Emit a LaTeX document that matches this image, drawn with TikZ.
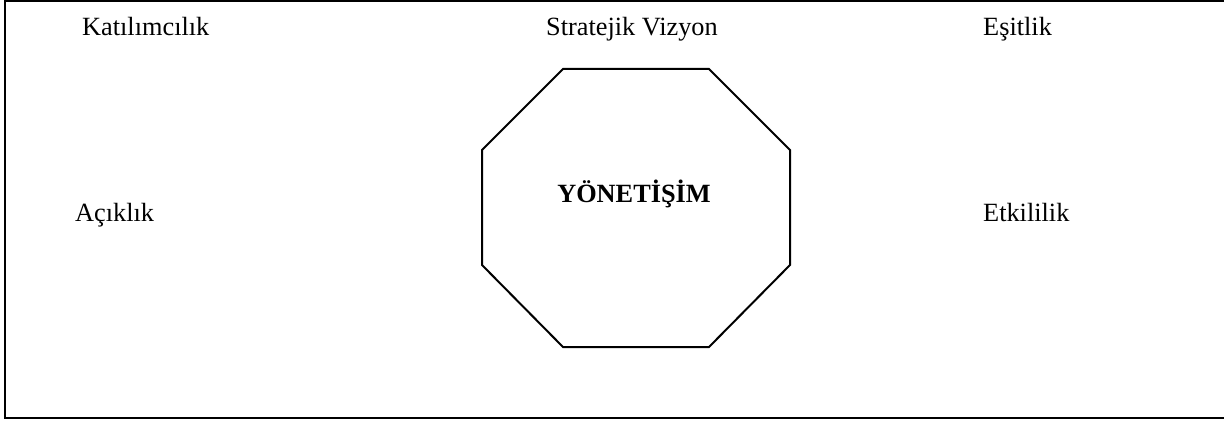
\documentclass[tikz,border=0pt]{standalone}
\usepackage{fontspec}
\setmainfont{Liberation Serif}
\usepackage{tikz}
\usetikzlibrary{positioning}

\begin{document}
\begin{tikzpicture}[x=1pt,y=-1pt,
  lbl/.style={anchor=base west,inner sep=0pt,font=\fontsize{26.3pt}{30pt}\selectfont},
  core/.style={inner sep=0pt,font=\fontsize{26.3pt}{30pt}\selectfont\bfseries},
  edge/.style={line width=2pt,line join=miter}]
  \useasboundingbox (0,0) rectangle (1224,422);
  \draw[edge] (5,1) rectangle (1230,418);

  \node[lbl] (kat) at (82,36)  {Katılımcılık};
  \node[lbl] (str) at (546,36) {Stratejik Vizyon};
  \node[lbl] (esi) at (983,36) {Eşitlik};
  \node[lbl] (aci) at (75,222) {Açıklık};
  \node[lbl] (etk) at (983,222) {Etkililik};

  % octagon
  \draw[edge] (563,69) -- (709,69) -- (790,150) -- (790,265) -- (709,347)
    -- (563,347) -- (482,265) -- (482,150) -- cycle;
  \node[core,anchor=base] (yon) at (634,203) {YÖNETİŞİM};
\end{tikzpicture}
\end{document}
